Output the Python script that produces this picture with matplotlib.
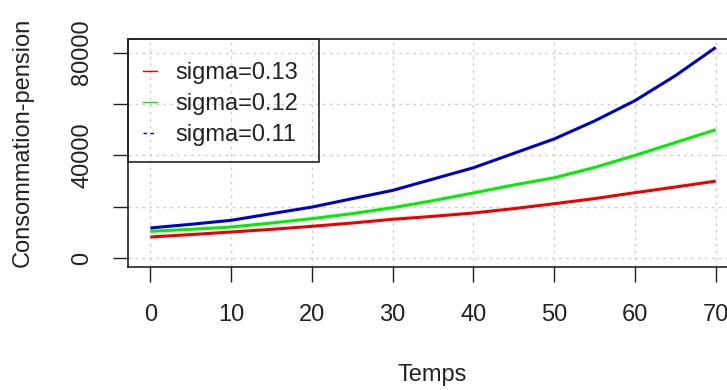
import matplotlib
matplotlib.use("Agg")
import matplotlib.pyplot as plt
from matplotlib.lines import Line2D
from matplotlib.patches import Rectangle

# ---- data ----
temps = [0, 5, 10, 15, 20, 25, 30, 35, 40, 45, 50, 55, 60, 65, 70]
sigma_013 = [8270, 9200, 10200, 11250, 12420, 13700, 15150, 16300, 17600, 19300, 21200, 23200, 25500, 27700, 30000]
sigma_012 = [10480, 11250, 12150, 13700, 15400, 17350, 19670, 22400, 25400, 28500, 31300, 35300, 40000, 45000, 50000]
sigma_011 = [11770, 13200, 14750, 17350, 19900, 23170, 26400, 30800, 35200, 40800, 46400, 53400, 61300, 71000, 82000]
labels = ["sigma=0.13", "sigma=0.12", "sigma=0.11"]
xticks = [0, 10, 20, 30, 40, 50, 60, 70]
yticks = [0, 20000, 40000, 60000, 80000]
ytick_labels = ["0", "", "40000", "", "80000"]

plt.rcParams['font.family'] = ['Liberation Sans', 'DejaVu Sans']
FS = 17

fig = plt.figure(figsize=(7.27, 3.90), dpi=100)
ax = fig.add_axes([0.1757, 0.3154, 0.8399, 0.5854])

ax.set_xlim(-2.8, 72.8)
ax.set_ylim(-3400, 85400)

# grid
for x in xticks:
    ax.axvline(x, color='#cfcfcf', lw=1.0, ls=(0, (2, 3)), zorder=0)
for y in yticks:
    ax.axhline(y, color='#cfcfcf', lw=1.0, ls=(0, (2, 3)), zorder=0)

colors = ['#ee0000', '#00ee00', '#0000cc']
for vals, c in zip([sigma_013, sigma_012, sigma_011], colors):
    ax.plot(temps, vals, color=c, lw=2.2, solid_capstyle='butt', zorder=3)

ax.set_xticks(xticks)
ax.set_xticklabels([str(t) for t in xticks])
ax.set_yticks(yticks)
ax.set_yticklabels(ytick_labels, rotation=90, va='center')

ax.tick_params(axis='both', direction='out', length=11, width=1.0, color='#222222',
               labelsize=FS, labelcolor='#222222')
ax.tick_params(axis='x', pad=16)
ax.tick_params(axis='y', pad=14)

for s in ax.spines.values():
    s.set_color('#222222')
    s.set_linewidth(1.2)

ax.set_xlabel("Temps", fontsize=FS, color='#222222')
ax.xaxis.label.set_va('center')
ax.xaxis.set_label_coords(0.498, -0.473)
ax.set_ylabel("Consommation-pension", fontsize=FS, color='#222222')
ax.yaxis.label.set_va('center')
ax.yaxis.set_label_coords(-0.1715, 0.5475)

handles = [Line2D([], [], color=colors[0], lw=1.0),
           Line2D([], [], color=colors[1], lw=1.0),
           Line2D([], [], color=colors[2], lw=1.0, ls=(0, (2.5, 2.5)))]
leg = ax.legend(handles, labels, loc='upper left', bbox_to_anchor=(0.025, 0.898),
                borderaxespad=0, fontsize=FS, frameon=False,
                handlelength=0.6, handletextpad=0.76, borderpad=0,
                labelspacing=0.39)
for t in leg.get_texts():
    t.set_color('#222222')
# legend box (R-style, transparent background)
ax.add_patch(Rectangle((0, 0.46), 0.3133, 0.54, transform=ax.transAxes,
                       facecolor='none', edgecolor='#222222', lw=1.2,
                       clip_on=False, zorder=5))

fig.savefig("out.png", dpi=100)
